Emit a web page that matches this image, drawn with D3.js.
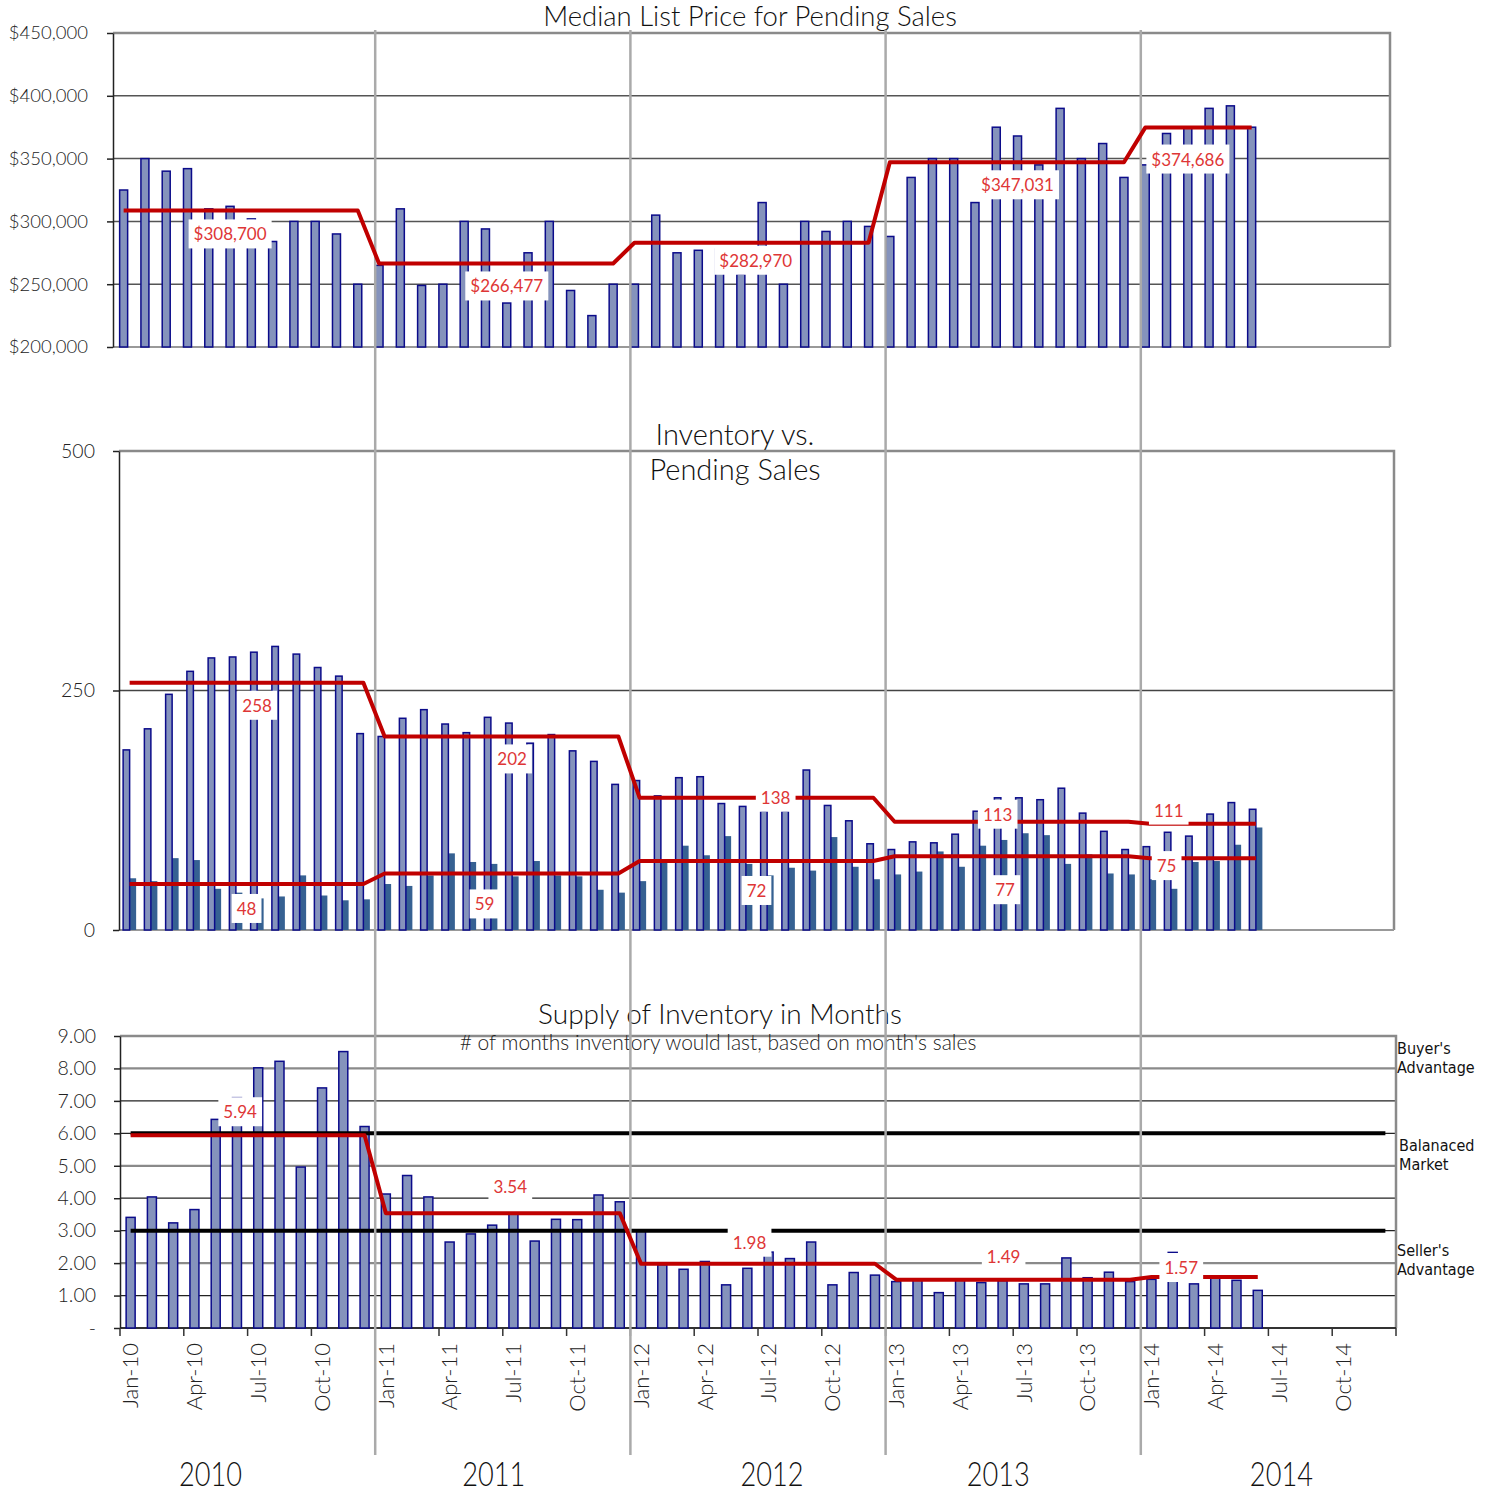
<!DOCTYPE html>
<html>
<head>
<meta charset="utf-8">
<script src="https://cdn.jsdelivr.net/npm/d3@7"></script>
<style>
	body { margin: 0; background: #fff; }
</style>
</head>
<body>
<div id="chartDiv"></div>
<script>
var years = ["2010", "2011", "2012", "2013", "2014"];
var monthNames = ["Jan", "Feb", "Mar", "Apr", "May", "Jun", "Jul", "Aug", "Sep", "Oct", "Nov", "Dec"];

var medianPrice = [
	325000, 350000, 340000, 342000, 310000, 312000, 302000, 284000, 300000, 300000, 290000, 250000,
	265000, 310000, 249000, 250000, 300000, 294000, 235000, 275000, 300000, 245000, 225000, 250000,
	250000, 305000, 275000, 277000, 278000, 258000, 315000, 250000, 300000, 292000, 300000, 296000,
	288000, 335000, 350000, 350000, 315000, 375000, 368000, 345000, 390000, 350000, 362000, 335000,
	345000, 370000, 375000, 390000, 392000, 375000
];
var priceAvg = [308700, 266477, 282970, 347031, 374686];

var inventory = [
	188, 210, 246, 270, 284, 285, 290, 296, 288, 274, 265, 205,
	202, 221, 230, 215, 206, 222, 216, 195, 204, 187, 176, 152,
	156, 140, 159, 160, 132, 129, 124, 124, 167, 130, 114, 90,
	84, 92, 91, 100, 124, 138, 138, 136, 148, 122, 103, 84,
	87, 102, 98, 121, 133, 126
];
var pending = [
	54, 51, 75, 73, 43, 39, 33, 35, 57, 36, 31, 32,
	48, 46, 57, 80, 71, 69, 56, 72, 57, 56, 42, 39,
	51, 70, 88, 78, 98, 69, 57, 65, 62, 97, 66, 53,
	58, 61, 82, 66, 88, 94, 101, 99, 69, 79, 59, 58,
	53, 43, 71, 72, 89, 107
];
var inventoryAvg = [258, 202, 138, 113, 111];
var pendingAvg = [48, 59, 72, 77, 75];

var supply = [
	3.41, 4.04, 3.24, 3.65, 6.43, 7.10, 8.02, 8.22, 4.96, 7.40, 8.52, 6.21,
	4.13, 4.70, 4.04, 2.65, 2.90, 3.17, 3.51, 2.68, 3.35, 3.34, 4.10, 3.89,
	3.00, 1.95, 1.81, 2.05, 1.33, 1.84, 2.34, 2.14, 2.65, 1.33, 1.71, 1.63,
	1.43, 1.47, 1.09, 1.48, 1.40, 1.46, 1.36, 1.36, 2.16, 1.55, 1.72, 1.43,
	1.50, 2.33, 1.36, 1.61, 1.47, 1.16
];
var supplyAvg = [5.94, 3.54, 1.98, 1.49, 1.57];
var marketLevels = [6, 3];
var marketNotes = [["Buyer's", "Advantage"], ["Balanaced", "Market"], ["Seller's", "Advantage"]];

var priceTicks = [200000, 250000, 300000, 350000, 400000, 450000];
var inventoryTicks = [0, 250, 500];
var supplyTicks = [0, 1, 2, 3, 4, 5, 6, 7, 8, 9];

; (function () {

	var width = 1489;
	var height = 1494;
	var font = "Lato, 'Open Sans', sans-serif";
	var narrow = "'Liberation Sans Narrow', 'DejaVu Sans Condensed', sans-serif";
	var lineRed = "#c00000";
	var textRed = "#de3636";
	var barFill = "#8593bc";
	var barStroke = "#0b0b8a";
	var pendFill = "#366192";

	var months = [];
	years.forEach(function (y) {
		monthNames.forEach(function (m) { months.push(m + "-" + y.slice(2)); });
	});

	var svg = d3.select("#chartDiv").append("svg")
		.attr("width", width)
		.attr("height", height)
		.style("background", "#fff");

	var layerGrid = svg.append("g");
	var layerBars = svg.append("g");
	var layerRef = svg.append("g");
	var layerTitles = svg.append("g");
	var layerSep = svg.append("g");
	var layerRed = svg.append("g");
	var layerLabels = svg.append("g");

	function avgSeries(avg, n) {
		return d3.range(n).map(function (i) { return avg[Math.floor(i / 12)]; });
	}

	function makePanel(cfg) {
		var p = { cfg: cfg };
		p.x = d3.scaleBand().domain(months).range([cfg.left, cfg.right]);
		p.y = d3.scaleLinear().domain([cfg.ticks[0], cfg.ticks[cfg.ticks.length - 1]]).range([cfg.bottom, cfg.top]);
		p.cx = function (i) { return cfg.left + (i + 0.5) * p.x.step(); };

		layerGrid.append("g").selectAll("line")
			.data(cfg.ticks.slice(1, -1)).join("line")
			.attr("x1", cfg.left).attr("x2", cfg.right)
			.attr("y1", function (d) { return p.y(d); })
			.attr("y2", function (d) { return p.y(d); })
			.attr("stroke", cfg.gridColor)
			.attr("stroke-width", cfg.gridWidth);

		// frame: top and right border
		layerGrid.append("path")
			.attr("d", "M" + cfg.left + "," + cfg.top + "H" + cfg.right + "V" + cfg.bottom)
			.attr("fill", "none").attr("stroke", "#8a8a8a").attr("stroke-width", 2.5);
		layerGrid.append("line")
			.attr("x1", cfg.left).attr("x2", cfg.right)
			.attr("y1", cfg.bottom).attr("y2", cfg.bottom)
			.attr("stroke", cfg.baseColor).attr("stroke-width", 2);

		var ax = layerGrid.append("g")
			.attr("transform", "translate(" + cfg.left + ",0)")
			.call(d3.axisLeft(p.y).tickValues(cfg.ticks).tickSize(6).tickSizeOuter(0)
				.tickPadding(cfg.pad).tickFormat(cfg.fmt));
		ax.select(".domain").attr("stroke", "#222").attr("stroke-width", 1.5);
		ax.selectAll(".tick line").attr("stroke", "#222").attr("stroke-width", 1.5);
		ax.selectAll(".tick text")
			.style("font-family", font)
			.style("font-weight", 300)
			.style("font-size", cfg.fontSize + "px")
			.attr("fill", "#222");
		return p;
	}

	function drawRed(p, avg, n) {
		var line = d3.line()
			.x(function (d, i) { return p.cx(i); })
			.y(function (d) { return p.y(d); });
		layerRed.append("path")
			.datum(avgSeries(avg, n))
			.attr("d", line)
			.attr("fill", "none")
			.attr("stroke", lineRed)
			.attr("stroke-width", 4)
			.attr("stroke-linejoin", "round");
	}

	function addLabel(cx, cy, txt) {
		var g = layerLabels.append("g");
		var t = g.append("text")
			.attr("x", cx).attr("y", cy)
			.attr("dy", "0.35em")
			.attr("text-anchor", "middle")
			.style("font-family", font)
			.style("font-size", "17px")
			.attr("fill", textRed)
			.text(txt);
		var b = t.node().getBBox();
		g.insert("rect", function () { return t.node(); })
			.attr("x", b.x - 5).attr("y", b.y - 4)
			.attr("width", b.width + 10).attr("height", b.height + 8)
			.attr("fill", "#fff");
	}

	function title(x, y, txt, size) {
		layerTitles.append("text")
			.attr("x", x).attr("y", y).attr("dy", "0.35em")
			.attr("text-anchor", "middle")
			.style("font-family", font)
			.style("font-weight", 300)
			.style("font-size", size + "px")
			.attr("fill", "#111")
			.text(txt);
	}

	// ---------- top panel: median list price ----------
	var top = makePanel({
		left: 113, right: 1390, top: 33, bottom: 347,
		ticks: priceTicks, fmt: d3.format("$,"), pad: 19, fontSize: 18.5,
		gridColor: "#555", gridWidth: 1.5, baseColor: "#999"
	});
	var bw = 8;
	layerBars.append("g").selectAll("rect")
		.data(medianPrice).join("rect")
		.attr("x", function (d, i) { return top.cx(i) - bw / 2; })
		.attr("y", function (d) { return top.y(d); })
		.attr("width", bw)
		.attr("height", function (d) { return top.y(priceTicks[0]) - top.y(d); })
		.attr("fill", barFill).attr("stroke", barStroke).attr("stroke-width", 1.5);
	drawRed(top, priceAvg, medianPrice.length);
	var priceLabelAt = [[5, 24], [18, 23], [29.7, 18], [42, 23], [50, 32]];
	priceAvg.forEach(function (v, k) {
		addLabel(top.cx(priceLabelAt[k][0]), top.y(v) + priceLabelAt[k][1], d3.format("$,")(v));
	});
	title(750, 16, "Median List Price for Pending Sales", 27.5);

	// ---------- middle panel: inventory vs pending ----------
	var mid = makePanel({
		left: 119, right: 1394, top: 451, bottom: 930,
		ticks: inventoryTicks, fmt: d3.format("d"), pad: 18, fontSize: 19.5,
		gridColor: "#444", gridWidth: 1.5, baseColor: "#999"
	});
	var mw = 6.5;
	layerBars.append("g").selectAll("rect")
		.data(pending).join("rect")
		.attr("x", function (d, i) { return mid.cx(i); })
		.attr("y", function (d) { return mid.y(d); })
		.attr("width", mw)
		.attr("height", function (d) { return mid.y(0) - mid.y(d); })
		.attr("fill", pendFill);
	layerBars.append("g").selectAll("rect")
		.data(inventory).join("rect")
		.attr("x", function (d, i) { return mid.cx(i) - mw; })
		.attr("y", function (d) { return mid.y(d); })
		.attr("width", mw)
		.attr("height", function (d) { return mid.y(0) - mid.y(d); })
		.attr("fill", barFill).attr("stroke", barStroke).attr("stroke-width", 1.5);
	drawRed(mid, inventoryAvg, inventory.length);
	drawRed(mid, pendingAvg, pending.length);
	var invLabelAt = [[6, 23], [18, 23], [30.4, 0], [40.85, -7], [48.9, -13]];
	var pendLabelAt = [[5.5, 25], [16.7, 31], [29.5, 30], [41.2, 34], [48.8, 8]];
	inventoryAvg.forEach(function (v, k) {
		addLabel(mid.cx(invLabelAt[k][0]), mid.y(v) + invLabelAt[k][1], v);
	});
	pendingAvg.forEach(function (v, k) {
		addLabel(mid.cx(pendLabelAt[k][0]), mid.y(v) + pendLabelAt[k][1], v);
	});
	title(735, 435, "Inventory vs.", 29);
	title(735, 470, "Pending Sales", 29);

	// ---------- bottom panel: months of supply ----------
	var bot = makePanel({
		left: 120, right: 1396, top: 1036, bottom: 1328,
		ticks: supplyTicks,
		fmt: function (d) { return d === 0 ? "-" : d3.format(".2f")(d); },
		pad: 18, fontSize: 19.5,
		gridColor: function (d) { return d % 3 === 2 ? "#8a8a8a" : "#222"; },
		gridWidth: function (d) { return d % 3 === 2 ? 2.2 : 1.3; },
		baseColor: "#333"
	});
	layerBars.append("g").selectAll("rect")
		.data(supply).join("rect")
		.attr("x", function (d, i) { return bot.cx(i) - 4.5; })
		.attr("y", function (d) { return bot.y(d); })
		.attr("width", 9)
		.attr("height", function (d) { return bot.y(0) - bot.y(d); })
		.attr("fill", barFill).attr("stroke", barStroke).attr("stroke-width", 1.5);

	marketLevels.forEach(function (lv) {
		layerRef.append("path")
			.datum(months.map(function () { return lv; }))
			.attr("d", d3.line()
				.x(function (d, i) { return bot.cx(i); })
				.y(function (d) { return bot.y(d); }))
			.attr("fill", "none").attr("stroke", "#000").attr("stroke-width", 4);
	});
	drawRed(bot, supplyAvg, supply.length);
	var supplyLabelAt = [[5.15, -23], [17.85, -26], [29.1, -21], [41.05, -23], [49.4, -9]];
	supplyAvg.forEach(function (v, k) {
		addLabel(bot.cx(supplyLabelAt[k][0]), bot.y(v) + supplyLabelAt[k][1], d3.format(".2f")(v));
	});
	title(720, 1014, "Supply of Inventory in Months", 28);
	layerTitles.append("text")
		.attr("x", 718).attr("y", 1043).attr("dy", "0.35em")
		.attr("text-anchor", "middle")
		.style("font-family", font).style("font-weight", 300).style("font-size", "21px")
		.attr("fill", "#222")
		.text("# of months inventory would last, based on month's sales");

	// market notes on the right
	var noteAt = [8.45, 5.46, 2.22];
	marketNotes.forEach(function (lines, k) {
		var t = layerTitles.append("text")
			.attr("x", k === 1 ? 1399 : 1397)
			.attr("y", bot.y(noteAt[k]))
			.style("font-family", narrow)
			.style("font-size", "16px")
			.attr("fill", "#111");
		lines.forEach(function (s, j) {
			t.append("tspan").attr("x", k === 1 ? 1399 : 1397).attr("dy", j ? 19 : 0).text(s);
		});
	});

	// bottom x axis: ticks every quarter, labels centred on months
	var quarterIdx = d3.range(0, months.length + 1, 3);
	layerGrid.append("g").selectAll("line")
		.data(quarterIdx).join("line")
		.attr("x1", function (i) { return bot.cfg.left + i * bot.x.step(); })
		.attr("x2", function (i) { return bot.cfg.left + i * bot.x.step(); })
		.attr("y1", 1328).attr("y2", 1336)
		.attr("stroke", "#333").attr("stroke-width", 1.5);

	var xAx = layerGrid.append("g")
		.attr("transform", "translate(0,1328)")
		.call(d3.axisBottom(bot.x)
			.tickValues(months.filter(function (m, i) { return i % 3 === 0; }))
			.tickSize(0));
	xAx.select(".domain").remove();
	xAx.selectAll(".tick text")
		.attr("transform", "rotate(-90)")
		.attr("x", -15).attr("y", 0).attr("dy", "0.35em")
		.style("text-anchor", "end")
		.style("font-family", font)
		.style("font-weight", 300)
		.style("font-size", "22px")
		.attr("fill", "#222");

	// year labels, condensed light face
	var yearShift = [-37, -9, 14, -15, 13];
	layerTitles.append("g").selectAll("text")
		.data(years).join("text")
		.attr("transform", function (d, k) {
			var x = bot.cfg.left + (k * 12 + 6) * bot.x.step() + yearShift[k];
			return "translate(" + x + ",1474) scale(0.8,1)";
		})
		.attr("dy", "0.35em")
		.attr("text-anchor", "middle")
		.style("font-family", font)
		.style("font-weight", 300)
		.style("font-size", "34px")
		.attr("fill", "#111")
		.text(function (d) { return d; });

	// year separators through all three panels
	layerSep.selectAll("line")
		.data(years.slice(1)).join("line")
		.attr("x1", function (d) { return bot.x("Jan-" + d.slice(2)); })
		.attr("x2", function (d) { return bot.x("Jan-" + d.slice(2)); })
		.attr("y1", 30).attr("y2", 1455)
		.attr("stroke", "#aaa").attr("stroke-width", 2.5);

})();
</script>
</body>
</html>
